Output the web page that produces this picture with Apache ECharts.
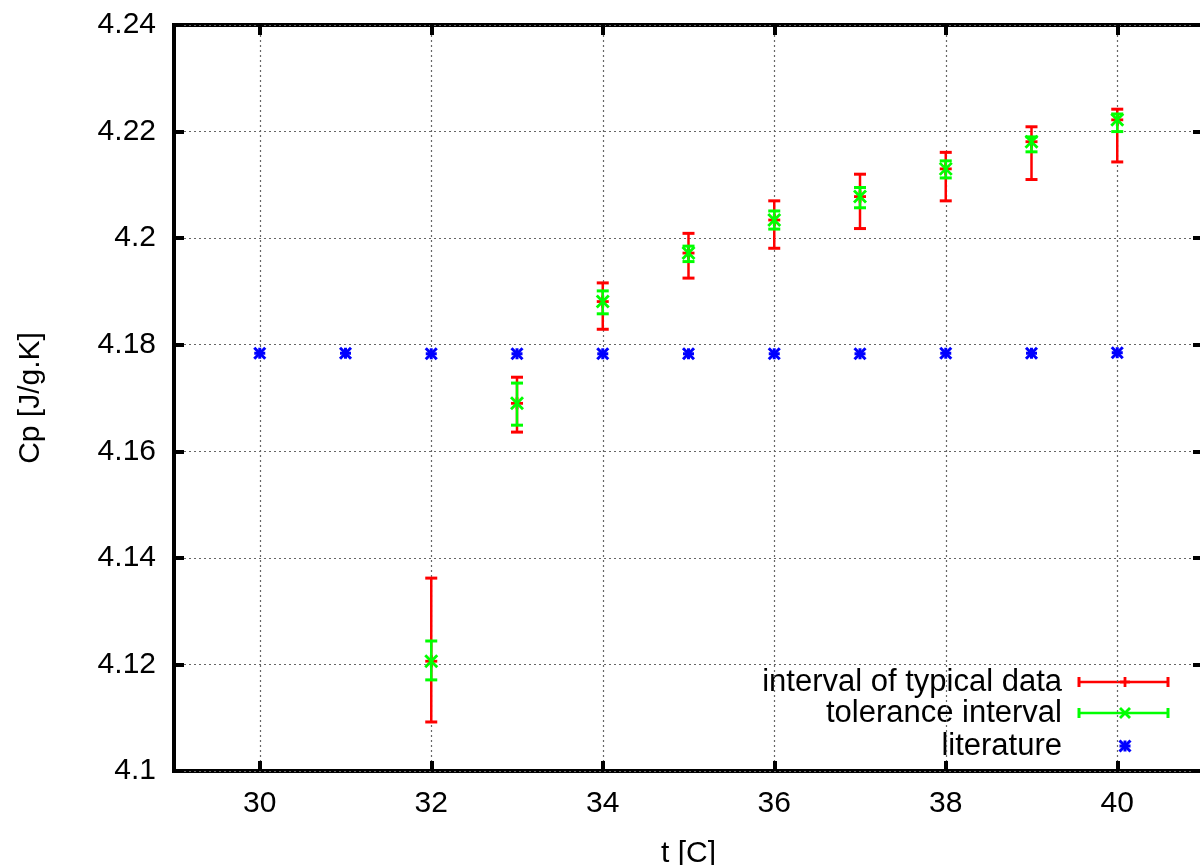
<!DOCTYPE html>
<html>
<head>
    <meta charset="utf-8" />
    <title>Cp of water</title>
    <script src="https://cdn.jsdelivr.net/npm/echarts@6/dist/echarts.min.js"></script>
    <style>
        html, body { margin: 0; padding: 0; background: #fff; }
        #main { width: 1200px; height: 865px; }
    </style>
</head>
<body>
    <div id="main"></div>
    <script>
        // measured points
        var temps = [32, 33, 34, 35, 36, 37, 38, 39, 40];
        var cpMean = [4.1206, 4.1690, 4.1881, 4.1972, 4.2034, 4.2078, 4.2130, 4.2181, 4.2222];
        var typicalLow = [4.1092, 4.1636, 4.1829, 4.1925, 4.1981, 4.2018, 4.2070, 4.2110, 4.2143];
        var typicalHigh = [4.1362, 4.1739, 4.1916, 4.2009, 4.2070, 4.2120, 4.2161, 4.2209, 4.2242];
        var tolLow = [4.1171, 4.1649, 4.1858, 4.1956, 4.2017, 4.2057, 4.2113, 4.2162, 4.2200];
        var tolHigh = [4.1244, 4.1728, 4.1901, 4.1985, 4.2051, 4.2095, 4.2145, 4.2190, 4.2233];

        // literature values
        var litTemps = [30, 31, 32, 33, 34, 35, 36, 37, 38, 39, 40];
        var litCp = [4.1784, 4.1784, 4.1783, 4.1783, 4.1783, 4.1783, 4.1783, 4.1783, 4.1784, 4.1784, 4.1785];

        var xTicks = [30, 32, 34, 36, 38, 40];
        var legendNames = ['interval of typical data', 'tolerance interval', 'literature'];

        var FONT = '"Liberation Sans", Arial, sans-serif';

        function rows(lo, hi) {
            return temps.map(function (t, i) { return [t, cpMean[i], lo[i], hi[i]]; });
        }

        function seg(x1, y1, x2, y2, color, w) {
            return { type: 'line', shape: { x1: x1, y1: y1, x2: x2, y2: y2 }, style: { stroke: color, lineWidth: w } };
        }

        function markerShapes(kind, cx, cy, color, r, w) {
            var out = [];
            if (kind === 'plus' || kind === 'star') {
                out.push(seg(cx - r, cy, cx + r, cy, color, w));
                out.push(seg(cx, cy - r, cx, cy + r, color, w));
            }
            if (kind === 'cross' || kind === 'star') {
                out.push(seg(cx - r, cy - r, cx + r, cy + r, color, w));
                out.push(seg(cx - r, cy + r, cx + r, cy - r, color, w));
            }
            return out;
        }

        function errorBar(color, marker) {
            return function (params, api) {
                var x = api.value(0);
                var c = api.coord([x, api.value(1)]);
                var lo = api.coord([x, api.value(2)]);
                var hi = api.coord([x, api.value(3)]);
                var cap = 6;
                var kids = [
                    seg(lo[0], lo[1], hi[0], hi[1], color, 2.5),
                    seg(lo[0] - cap, lo[1], lo[0] + cap, lo[1], color, 3),
                    seg(hi[0] - cap, hi[1], hi[0] + cap, hi[1], color, 3)
                ];
                kids = kids.concat(markerShapes(marker, c[0], c[1], color, 6, 2.8));
                return { type: 'group', children: kids };
            };
        }

        function literaturePoint(params, api) {
            var p = api.coord([api.value(0), api.value(1)]);
            return { type: 'group', children: markerShapes('star', p[0], p[1], '#0000ff', 5.5, 3) };
        }

        // legend drawn by hand (error bar samples)
        function legendGraphics() {
            var g = [];
            var textRight = 1062, x1 = 1079, x2 = 1168, xm = 1125;
            var ys = [682, 713, 746];
            var cols = ['#ff0000', '#00ff00', '#0000ff'];
            legendNames.forEach(function (name, i) {
                g.push({
                    type: 'text', x: textRight, y: ys[i],
                    style: { text: name, font: '31px ' + FONT, fill: '#000', align: 'right', verticalAlign: 'middle' }
                });
            });
            for (var i = 0; i < 2; i++) {
                var y = ys[i], col = cols[i];
                g.push(seg(x1, y, x2, y, col, 2.5));
                g.push(seg(x1, y - 5, x1, y + 5, col, 3));
                g.push(seg(x2, y - 5, x2, y + 5, col, 3));
                markerShapes(i === 0 ? 'plus' : 'cross', xm, y, col, 5, 2.8).forEach(function (s) { g.push(s); });
            }
            markerShapes('star', xm, ys[2], '#0000ff', 5.5, 3).forEach(function (s) { g.push(s); });
            return g;
        }

        var chart = echarts.init(document.getElementById('main'), null, { renderer: 'canvas' });

        var tickStyle = { show: true, inside: true, length: 10, lineStyle: { color: '#000', width: 4 } };
        var dotted = { show: true, lineStyle: { color: '#666', width: 1.2, type: [2, 3] } };

        chart.setOption({
            animation: false,
            backgroundColor: '#fff',
            grid: {
                left: 174, top: 25, width: 1029, height: 746,
                outerBoundsMode: 'none',
                show: true, borderColor: '#000', borderWidth: 4
            },
            xAxis: [{
                type: 'value', min: 29, max: 41, position: 'bottom',
                axisLine: { show: false },
                axisTick: Object.assign({ customValues: xTicks }, tickStyle),
                axisLabel: { customValues: xTicks, fontSize: 30, fontFamily: FONT, color: '#000', margin: 18 },
                splitLine: dotted,
                name: 't [C]', nameLocation: 'middle', nameGap: 68,
                nameTextStyle: { fontSize: 30, fontFamily: FONT, color: '#000' }
            }, {
                type: 'value', min: 29, max: 41, position: 'top',
                axisLine: { show: false },
                axisTick: Object.assign({ customValues: xTicks }, tickStyle),
                axisLabel: { show: false },
                splitLine: { show: false }
            }],
            yAxis: [{
                type: 'value', min: 4.1, max: 4.24, interval: 0.02, position: 'left',
                axisLine: { show: false },
                axisTick: tickStyle,
                axisLabel: { fontSize: 30, fontFamily: FONT, color: '#000', margin: 18, showMinLabel: true, showMaxLabel: true },
                splitLine: dotted,
                name: 'Cp [J/g.K]', nameLocation: 'middle', nameGap: 128, nameRotate: 90,
                nameTextStyle: { fontSize: 30, fontFamily: FONT, color: '#000' }
            }, {
                type: 'value', min: 4.1, max: 4.24, interval: 0.02, position: 'right',
                axisLine: { show: false },
                axisTick: tickStyle,
                axisLabel: { show: false },
                splitLine: { show: false }
            }],
            series: [{
                name: legendNames[0], type: 'custom', coordinateSystem: 'cartesian2d',
                renderItem: errorBar('#ff0000', 'plus'),
                encode: { x: 0, y: [1, 2, 3] },
                data: rows(typicalLow, typicalHigh), z: 3, clip: false
            }, {
                name: legendNames[1], type: 'custom', coordinateSystem: 'cartesian2d',
                renderItem: errorBar('#00ff00', 'cross'),
                encode: { x: 0, y: [1, 2, 3] },
                data: rows(tolLow, tolHigh), z: 4, clip: false
            }, {
                name: legendNames[2], type: 'custom', coordinateSystem: 'cartesian2d',
                renderItem: literaturePoint,
                encode: { x: 0, y: 1 },
                data: litTemps.map(function (t, i) { return [t, litCp[i]]; }), z: 5, clip: false
            }],
            graphic: legendGraphics()
        });
    </script>
</body>
</html>
